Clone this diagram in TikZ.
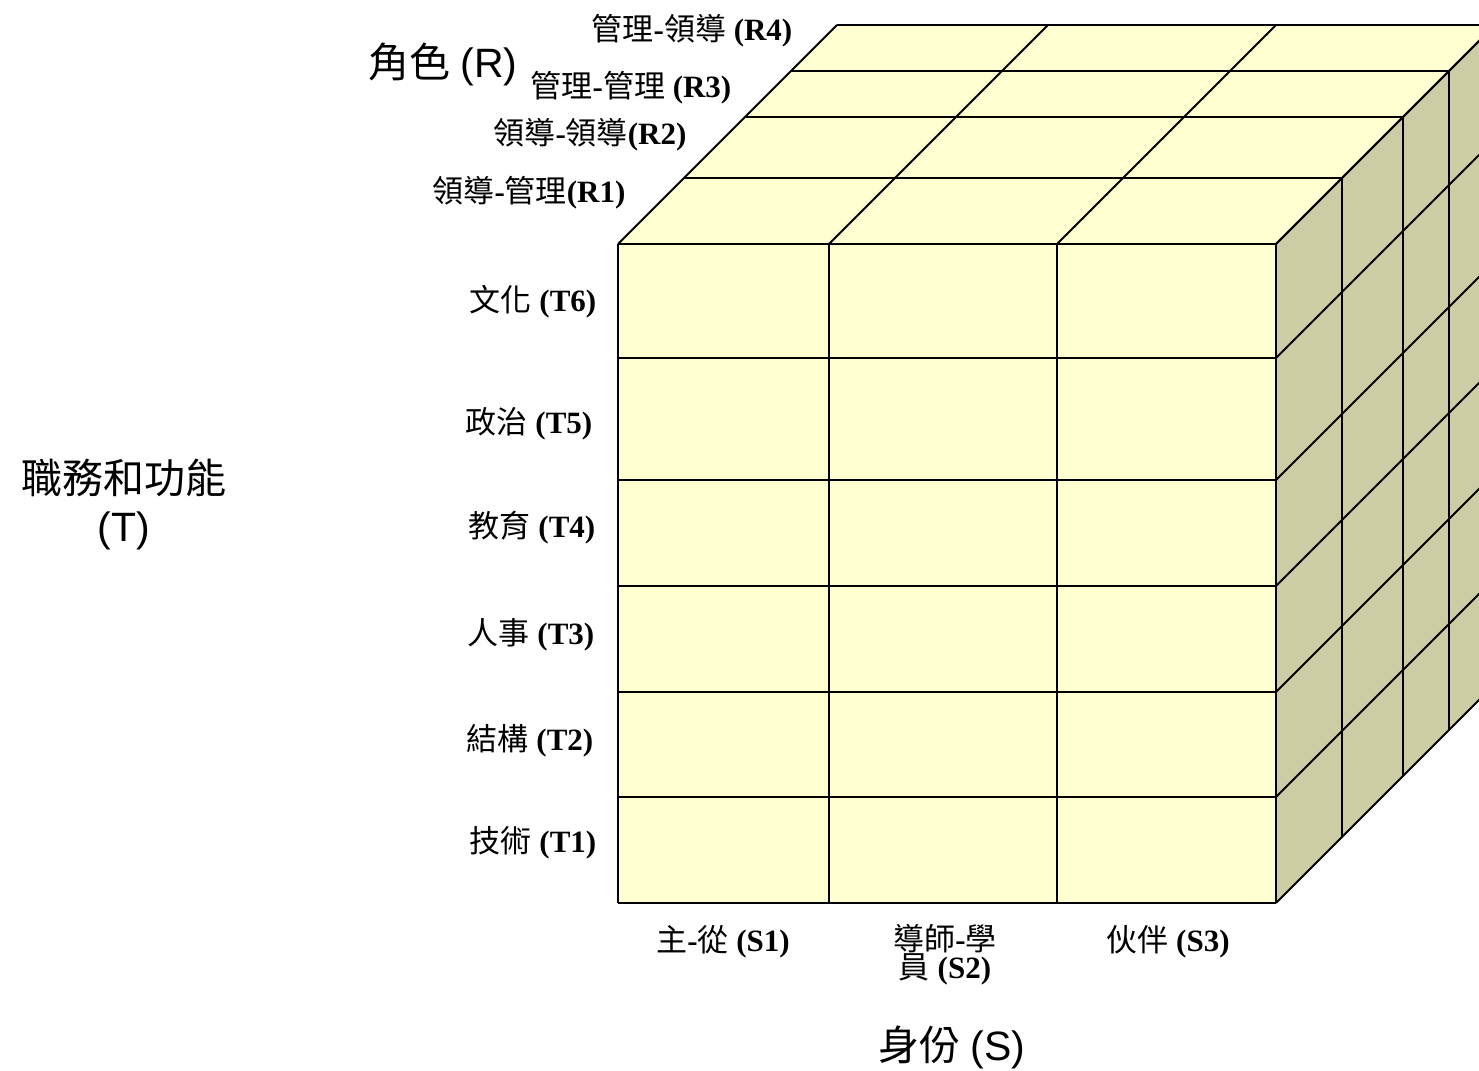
\documentclass[tikz,border=0pt]{standalone}
\usepackage{fontspec}
\setmainfont{Liberation Serif}
\newfontfamily\cjk{Noto Sans CJK TC}
\newfontfamily\arialf{Liberation Sans}
\definecolor{facey}{HTML}{FFFFD2}
\definecolor{sidey}{HTML}{CDCDA5}
\begin{document}
\begin{tikzpicture}[x=1pt,y=-1pt,
  edge/.style={line width=2pt,black,line join=miter},
  lab/.style={inner sep=0pt,font=\fontsize{31}{32}\selectfont},
  axis/.style={inner sep=0pt,font=\fontsize{41}{46}\selectfont},
]
\useasboundingbox (0,0) rectangle (1479,1070);
\clip (0,0) rectangle (1479,1070);
% faces
\fill[facey] (618,244) rectangle (1276,903);
\fill[facey] (618,244) -- (1276,244) -- (1495,25) -- (837,25) -- cycle;
\fill[sidey] (1276,244) -- (1495,25) -- (1495,684) -- (1276,903) -- cycle;
% front grid
\foreach \y in {244,358,480,586,692,797,903} \draw[edge] (618,\y) -- (1276,\y);
\foreach \x in {618,829,1057,1276} \draw[edge] (\x,244) -- (\x,903);
% top grid
\foreach \d in {66,127,173,219} \draw[edge] (618+\d,244-\d) -- (1276+\d,244-\d);
\foreach \x in {618,829,1057,1276} \draw[edge] (\x,244) -- (\x+219,25);
% right grid
\foreach \d in {66,127,173,219} \draw[edge] (1276+\d,244-\d) -- (1276+\d,903-\d);
\foreach \y in {244,358,480,586,692,797,903} \draw[edge] (1276,\y) -- (1495,\y-219);
% labels R
\node[lab] (r4) at (692,31) {{\cjk 管理}\textbf{-}{\cjk 領導} \textbf{(R4)}};
\node[lab] (r3) at (631,88) {{\cjk 管理}\textbf{-}{\cjk 管理} \textbf{(R3)}};
\node[lab] (r2) at (590,135) {{\cjk 領導}\textbf{-}{\cjk 領導}\textbf{(R2)}};
\node[lab] (r1) at (529,193) {{\cjk 領導}\textbf{-}{\cjk 管理}\textbf{(R1)}};
\node[axis] (rax) at (443,64) {{\cjk 角色} {\arialf (R)}};
% labels T
\node[lab] (t6) at (533,302) {{\cjk 文化} \textbf{(T6)}};
\node[lab] (t5) at (529,424) {{\cjk 政治} \textbf{(T5)}};
\node[lab] (t4) at (532,528) {{\cjk 教育} \textbf{(T4)}};
\node[lab] (t3) at (531,635) {{\cjk 人事} \textbf{(T3)}};
\node[lab] (t2) at (530,741) {{\cjk 結構} \textbf{(T2)}};
\node[lab] (t1) at (533,843) {{\cjk 技術} \textbf{(T1)}};
\node[axis,align=center,font=\fontsize{41}{48}\selectfont] (tax) at (124,504) {{\cjk 職務和功能}\\{\arialf (T)}};
% labels S
\node[lab] (s1) at (723,942) {{\cjk 主}\textbf{-}{\cjk 從} \textbf{(S1)}};
\node[lab,align=center,font=\fontsize{31}{27}\selectfont] (s2) at (945,955) {{\cjk 導師}\textbf{-}{\cjk 學}\\{\cjk 員} \textbf{(S2)}};
\node[lab] (s3) at (1168,942) {{\cjk 伙伴} \textbf{(S3)}};
\node[axis] (sax) at (952,1047) {{\cjk 身份} {\arialf (S)}};
\end{tikzpicture}
\end{document}
